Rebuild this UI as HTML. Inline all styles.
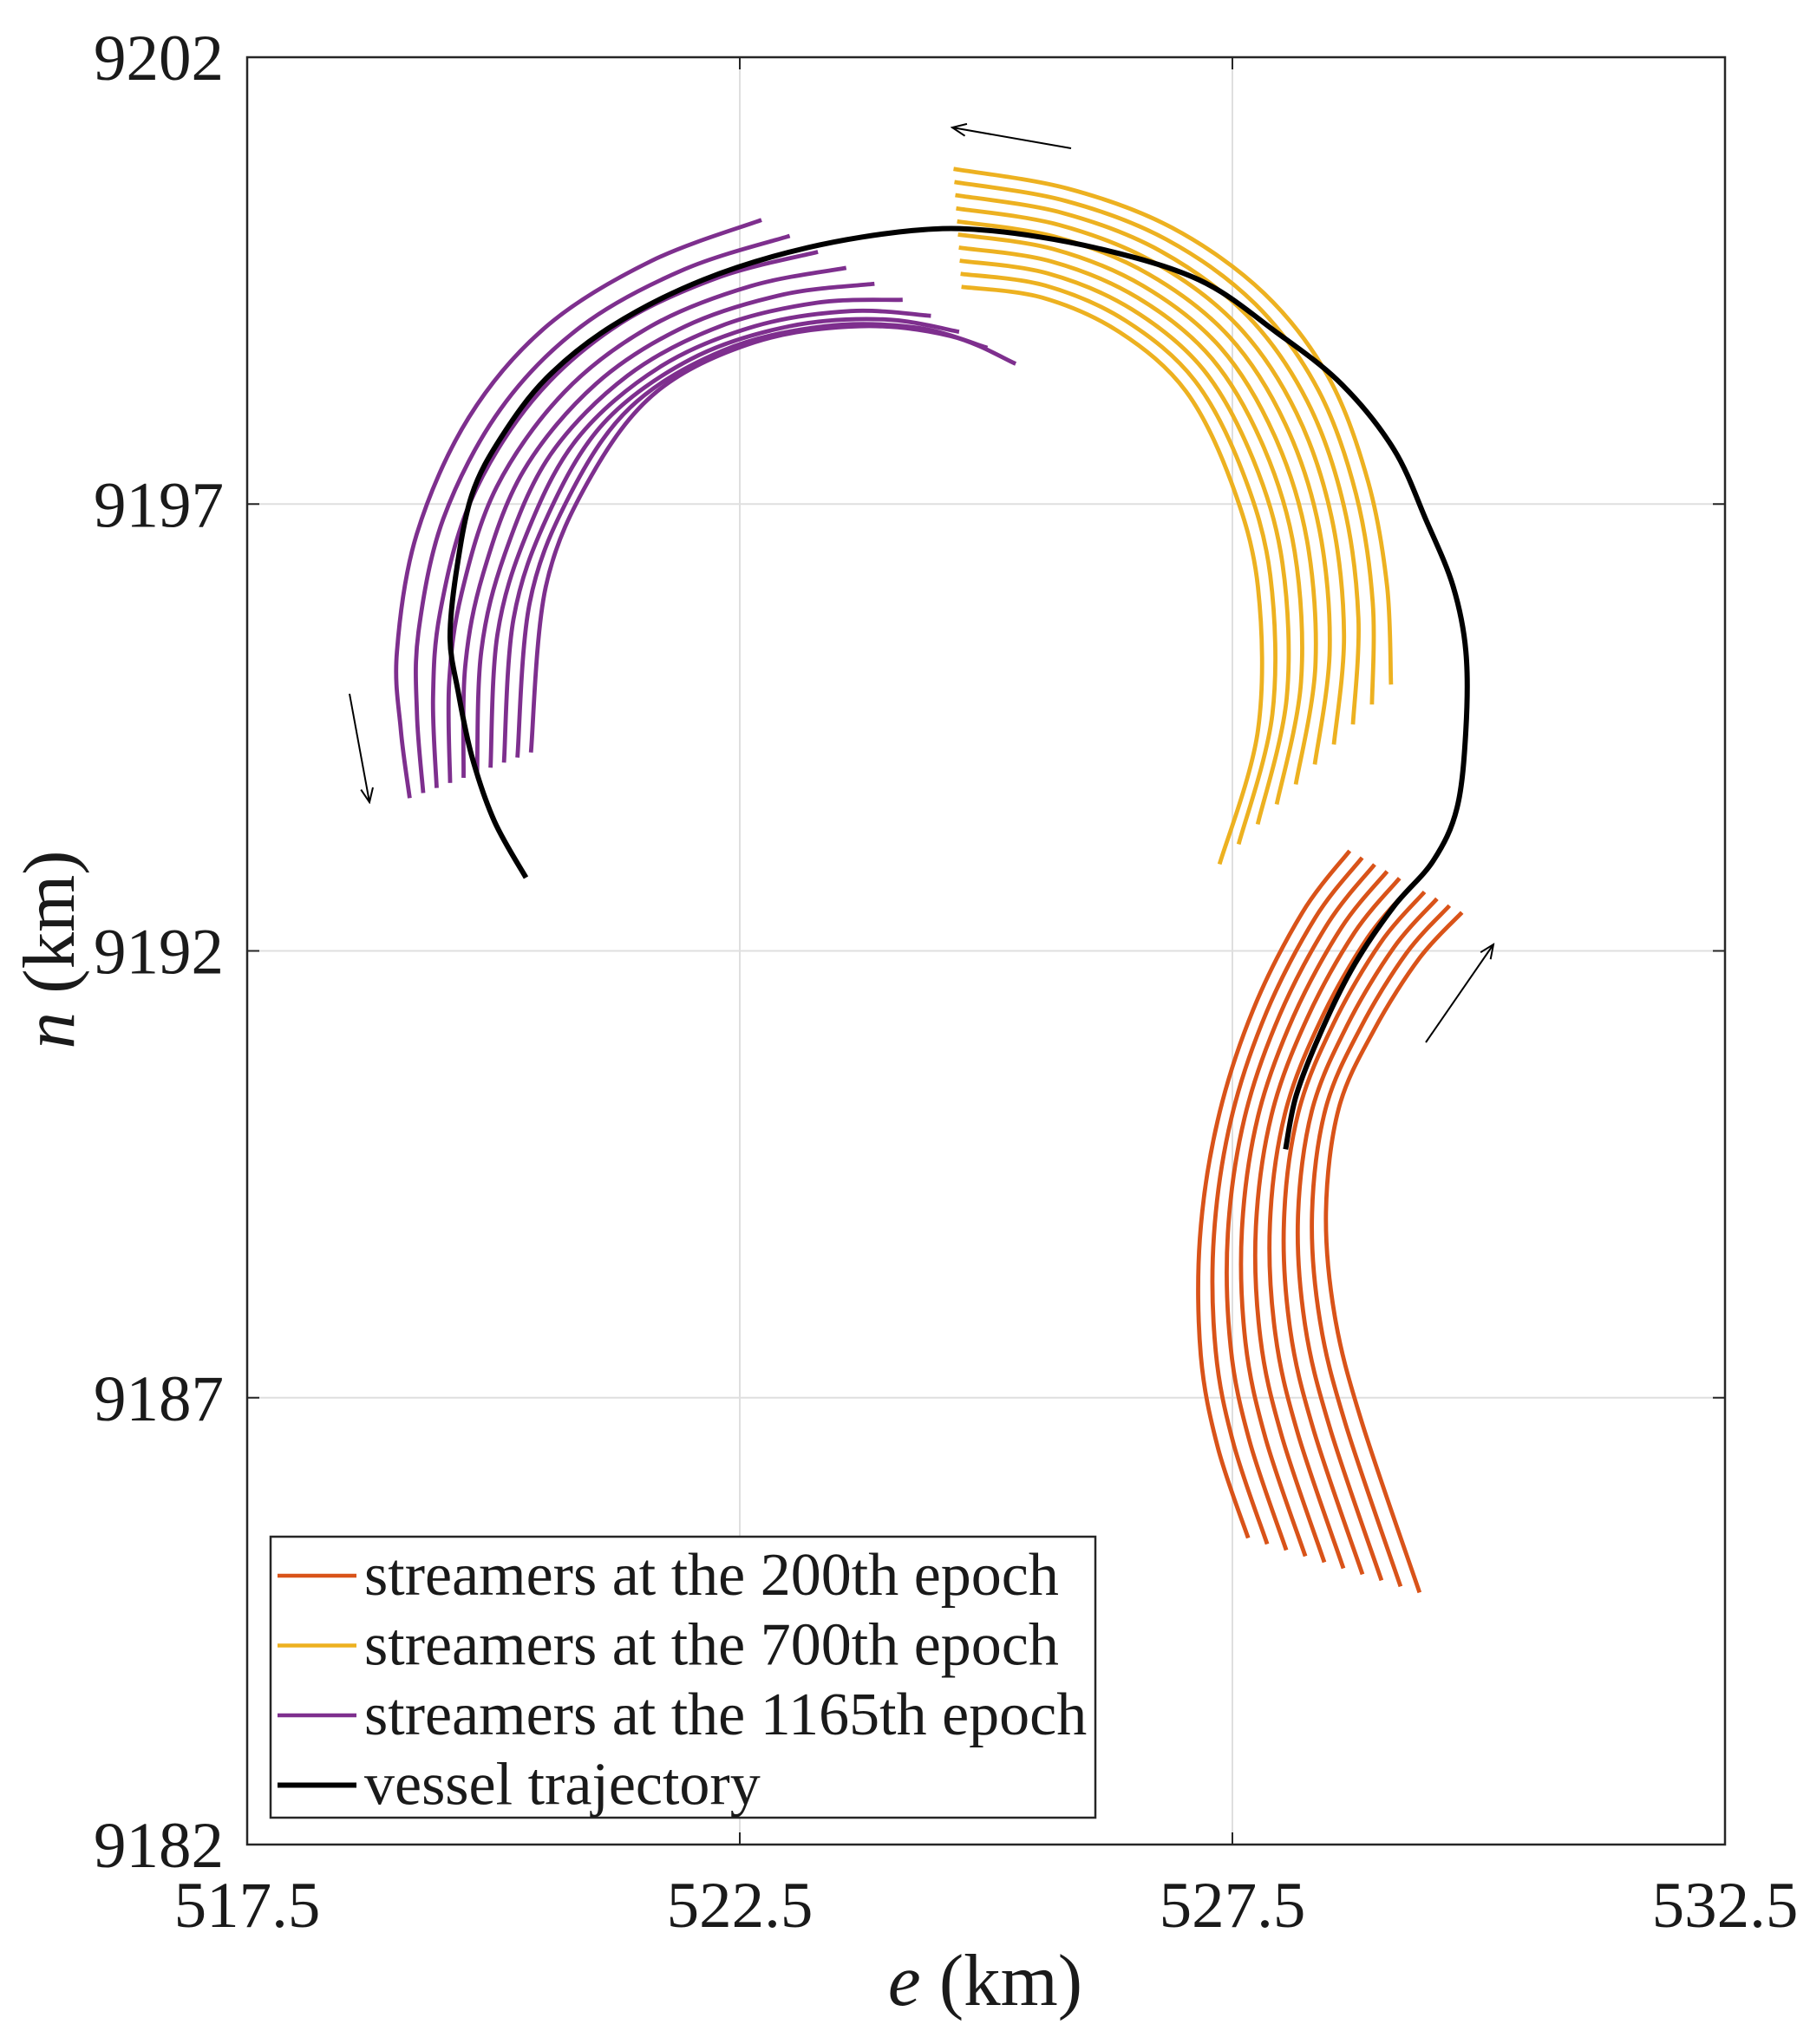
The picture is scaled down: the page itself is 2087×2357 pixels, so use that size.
<!DOCTYPE html>
<html><head><meta charset="utf-8"><style>
body{margin:0;background:#fff}
svg{display:block}
text{font-family:"Liberation Serif",serif;fill:#1a1a1a}
</style></head><body>
<svg id="chart" width="2087" height="2357" viewBox="0 0 2087 2357" xmlns="http://www.w3.org/2000/svg">
<defs><marker id="ah" viewBox="0 0 20 20" refX="18" refY="10" markerWidth="20" markerHeight="20" markerUnits="userSpaceOnUse" orient="auto"><path d="M2,3 L18,10 L2,17" fill="none" stroke="#000" stroke-width="2"/></marker></defs>
<g id="grid"></g>
<g id="series"></g>
<g id="axes"></g>
</svg>
<script>
const xTicks=[517.5,522.5,527.5,532.5];
const yTicks=[9182,9187,9192,9197,9202];
const trajE=[520.33,520.01,519.78,519.64,519.56,519.62,519.78,520.08,520.54,521.20,522.13,523.19,524.25,525.04,526.10,527.16,527.95,528.61,529.14,529.47,529.74,529.87,529.87,529.78,529.54,529.14,528.74,528.41,528.15,528.04];
const trajN=[9192.82,9193.45,9194.18,9194.91,9195.49,9196.22,9197.10,9197.75,9198.41,9198.99,9199.51,9199.87,9200.06,9200.06,9199.87,9199.51,9198.92,9198.34,9197.61,9196.81,9196.08,9195.35,9194.47,9193.60,9193.01,9192.50,9191.85,9191.12,9190.39,9189.78];
// streamer groups: first and last cable curves (e,n), 10 cables each
const orgFirstE=[528.69,528.21,527.71,527.35,527.17,527.18,527.35,527.66];
const orgFirstN=[9193.12,9192.43,9191.34,9190.10,9188.78,9187.47,9186.45,9185.43];
const orgLastE=[529.83,529.40,528.94,528.58,528.45,528.54,528.81,529.40];
const orgLastN=[9192.43,9191.92,9191.12,9190.24,9189.08,9187.91,9186.74,9184.82];
const yelFirstE=[524.67,525.83,526.89,527.82,528.48,528.88,529.07,529.11];
const yelFirstN=[9200.75,9200.53,9200.09,9199.36,9198.41,9197.24,9196.08,9194.98];
const yelLastE=[524.75,525.57,526.36,527.03,527.49,527.76,527.76,527.37];
const yelLastN=[9199.43,9199.31,9198.92,9198.26,9197.24,9196.07,9194.47,9192.97];
const purFirstE=[522.72,521.60,520.54,519.75,519.22,519.02,519.06,519.15];
const purFirstN=[9200.18,9199.72,9198.99,9197.97,9196.66,9195.35,9194.47,9193.71];
const purLastE=[525.30,524.64,523.71,522.65,521.66,520.99,520.53,520.38];
const purLastN=[9198.57,9198.88,9198.99,9198.81,9198.26,9197.31,9196.07,9194.22];
const cables=10;
const X0=285,X1=1989,Y0=2127,Y1=66;
const sx=v=>X0+(v-517.5)/(532.5-517.5)*(X1-X0);
const sy=v=>Y0-(v-9182)/(9202-9182)*(Y0-Y1);
const NS="http://www.w3.org/2000/svg";
function mk(tag,attrs,parent){const el=document.createElementNS(NS,tag);for(const k in attrs)el.setAttribute(k,attrs[k]);parent.appendChild(el);return el;}
function smooth(p){let d='M'+p[0][0].toFixed(1)+','+p[0][1].toFixed(1);
 for(let i=0;i<p.length-1;i++){const a=p[Math.max(0,i-1)],b=p[i],c=p[i+1],e=p[Math.min(p.length-1,i+2)];
  const c1=[b[0]+(c[0]-a[0])/6,b[1]+(c[1]-a[1])/6],c2=[c[0]-(e[0]-b[0])/6,c[1]-(e[1]-b[1])/6];
  d+=' C'+c1[0].toFixed(1)+','+c1[1].toFixed(1)+' '+c2[0].toFixed(1)+','+c2[1].toFixed(1)+' '+c[0].toFixed(1)+','+c[1].toFixed(1);}
 return d;}
const grid=document.getElementById('grid'),series=document.getElementById('series'),axes=document.getElementById('axes');
xTicks.forEach(t=>{const x=sx(t);
 if(t>517.5&&t<532.5){const g=mk('line',{x1:x,x2:x,y1:Y1,y2:Y0,stroke:'#dfdfdf','stroke-width':2},grid);
 
 }
 mk('line',{x1:x,x2:x,y1:Y0,y2:Y0-14,stroke:'#262626','stroke-width':2},axes);
 mk('line',{x1:x,x2:x,y1:Y1,y2:Y1+14,stroke:'#262626','stroke-width':2},axes);
 const tx=mk('text',{x:x,y:2222,'font-size':75,'text-anchor':'middle'},axes);tx.textContent=t.toFixed(1);
 
 
});
yTicks.forEach(t=>{const y=sy(t);
 if(t>9182&&t<9202){const g=mk('line',{x1:X0,x2:X1,y1:y,y2:y,stroke:'#dfdfdf','stroke-width':2},grid);
 
 }
 mk('line',{x1:X0,x2:X0+14,y1:y,y2:y,stroke:'#262626','stroke-width':2},axes);
 mk('line',{x1:X1,x2:X1-14,y1:y,y2:y,stroke:'#262626','stroke-width':2},axes);
 const tx=mk('text',{x:258,y:y+26,'font-size':75,'text-anchor':'end'},axes);tx.textContent=t;
 
 
});
const frame=mk('rect',{x:X0,y:Y1,width:X1-X0,height:Y0-Y1,fill:'none',stroke:'#262626','stroke-width':2.5},axes);


function drawGroup(fe,fn,le,ln,color,name){
 for(let i=0;i<cables;i++){const t=i/(cables-1);
  const pts=fe.map((e,k)=>[sx(e+(le[k]-e)*t),sy(fn[k]+(ln[k]-fn[k])*t)]);
  const p=mk('path',{d:smooth(pts),fill:'none',stroke:color,'stroke-width':4.8},series);
  
  }
}
drawGroup(orgFirstE,orgFirstN,orgLastE,orgLastN,'#D95319','streamer-200th');
drawGroup(yelFirstE,yelFirstN,yelLastE,yelLastN,'#EDB120','streamer-700th');
drawGroup(purFirstE,purFirstN,purLastE,purLastN,'#7E2F8E','streamer-1165th');
const tr=mk('path',{d:smooth(trajE.map((e,k)=>[sx(e),sy(trajN[k])])),fill:'none',stroke:'#000','stroke-width':6},series);


[[1235,171,1098,147],[403,800,426,925],[1644,1202,1722,1089]].forEach(a=>{
 const l=mk('line',{x1:a[0],y1:a[1],x2:a[2],y2:a[3],stroke:'#000','stroke-width':2,'marker-end':'url(#ah)'},series);
 
 
});
// legend
const lg=mk('g',{},axes);


mk('rect',{x:312,y:1772,width:951,height:324,fill:'#fff',stroke:'#262626','stroke-width':2.5},lg);
const labels=['streamers at the 200th epoch','streamers at the 700th epoch','streamers at the 1165th epoch','vessel trajectory'];
const lcols=['#D95319','#EDB120','#7E2F8E','#000'];
labels.forEach((s,i)=>{const y=1817+i*80.5;
 mk('line',{x1:320,x2:411,y1:y,y2:y,stroke:lcols[i],'stroke-width':i==3?6:4.5},lg);
 const tx=mk('text',{x:420,y:y+22,'font-size':70,fill:'#000'},lg);tx.textContent=s;
 
 
});
const xl=mk('text',{x:1136,y:2312,'font-size':85,'text-anchor':'middle'},axes);
xl.innerHTML='<tspan font-style="italic">e</tspan> (km)';


const yl=mk('text',{x:0,y:0,'font-size':85,'text-anchor':'middle',transform:'translate(85,1095) rotate(-90)'},axes);
yl.innerHTML='<tspan font-style="italic">n</tspan> (km)';


</script>
</body></html>
